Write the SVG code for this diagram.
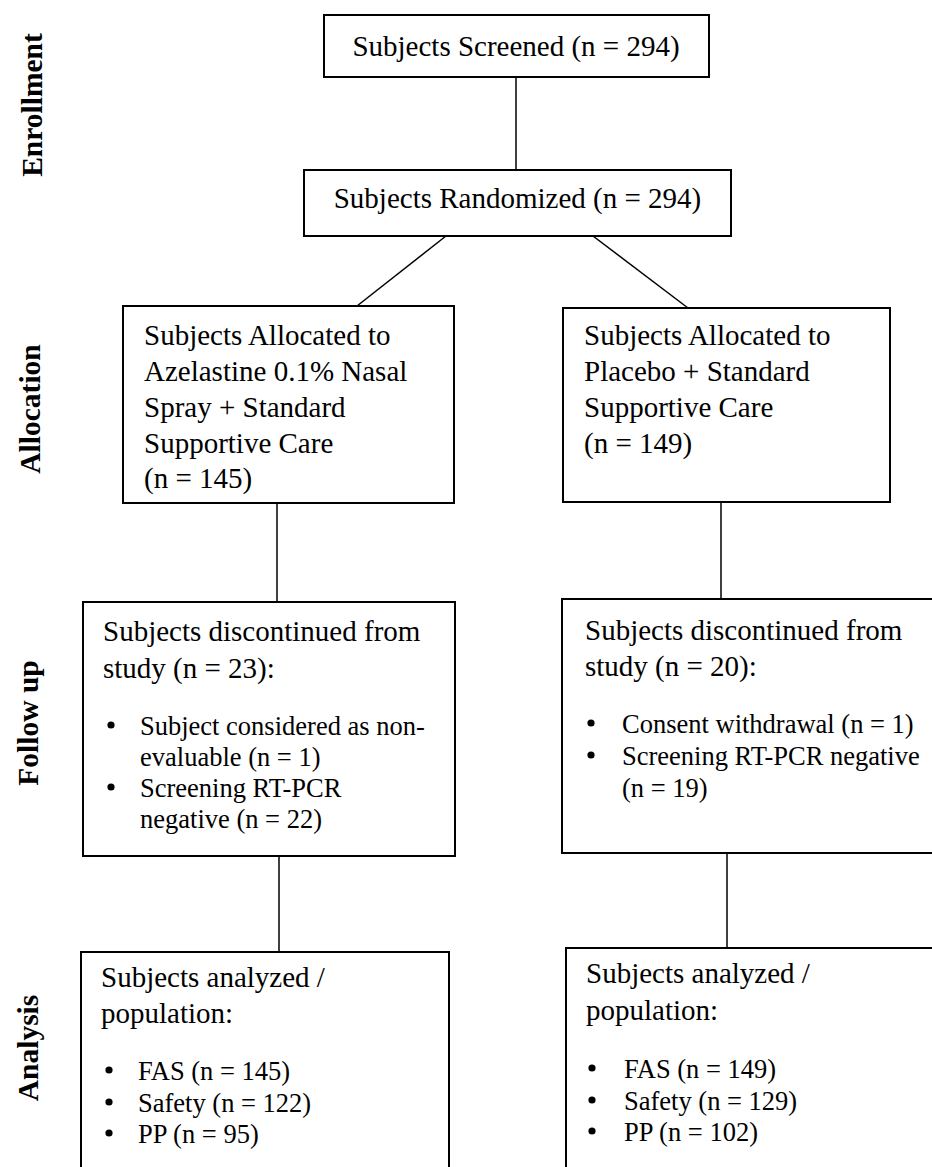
<svg xmlns="http://www.w3.org/2000/svg" width="932" height="1167" viewBox="0 0 932 1167">
  <style>
    .box { fill: #ffffff; stroke: #000000; stroke-width: 2; }
    .conn { stroke: #000000; stroke-width: 1.5; fill: none; }
    .t { font-family: "Liberation Serif", "Times New Roman", serif; font-size: 29px; fill: #000000; }
    .b { font-family: "Liberation Serif", "Times New Roman", serif; font-size: 26.5px; fill: #000000; }
    .lbl { font-family: "Liberation Serif", "Times New Roman", serif; font-size: 29.5px; font-weight: bold; fill: #000000; text-anchor: middle; }
    .c { text-anchor: middle; }
    .dot { fill: #000000; }
  </style>
  <rect x="0" y="0" width="932" height="1167" fill="#ffffff"/>

  <g id="stage-labels">
    <text class="lbl" transform="translate(42,105) rotate(-90)">Enrollment</text>
    <text class="lbl" transform="translate(40,409) rotate(-90)">Allocation</text>
    <text class="lbl" transform="translate(38,723) rotate(-90)">Follow up</text>
    <text class="lbl" transform="translate(38,1048) rotate(-90)">Analysis</text>
  </g>

  <g id="connectors">
    <line class="conn" x1="516" y1="77" x2="516" y2="170"/>
    <line class="conn" x1="446" y1="236" x2="357" y2="306"/>
    <line class="conn" x1="593" y1="236" x2="688" y2="308"/>
    <line class="conn" x1="277" y1="503" x2="277" y2="602"/>
    <line class="conn" x1="721" y1="502" x2="721" y2="599"/>
    <line class="conn" x1="279" y1="856" x2="279" y2="952"/>
    <line class="conn" x1="727" y1="853" x2="727" y2="948"/>
  </g>

  <g id="screened">
    <rect class="box" x="324" y="15" width="385" height="62"/>
    <text class="t c" x="516" y="56">Subjects Screened (n = 294)</text>
  </g>

  <g id="randomized">
    <rect class="box" x="304" y="170" width="427" height="66"/>
    <text class="t c" x="517.5" y="208">Subjects Randomized (n = 294)</text>
  </g>

  <g id="alloc-azelastine">
    <rect class="box" x="123" y="306" width="331" height="197"/>
    <text class="t" x="144" y="345">Subjects Allocated to</text>
    <text class="t" x="144" y="381">Azelastine 0.1% Nasal</text>
    <text class="t" x="144" y="417">Spray + Standard</text>
    <text class="t" x="144" y="453">Supportive Care</text>
    <text class="t" x="144" y="488">(n = 145)</text>
  </g>

  <g id="alloc-placebo">
    <rect class="box" x="563" y="308" width="327" height="194"/>
    <text class="t" x="584" y="345">Subjects Allocated to</text>
    <text class="t" x="584" y="381">Placebo + Standard</text>
    <text class="t" x="584" y="417">Supportive Care</text>
    <text class="t" x="584" y="453">(n = 149)</text>
  </g>

  <g id="followup-azelastine">
    <rect class="box" x="83" y="602" width="372" height="254"/>
    <text class="t" x="103" y="641">Subjects discontinued from</text>
    <text class="t" x="103" y="678">study (n = 23):</text>
    <circle class="dot" cx="111" cy="725" r="3.6"/>
    <text class="b" x="140" y="735">Subject considered as non-</text>
    <text class="b" x="140" y="766">evaluable (n = 1)</text>
    <circle class="dot" cx="111" cy="787" r="3.6"/>
    <text class="b" x="140" y="797">Screening RT-PCR</text>
    <text class="b" x="140" y="828">negative (n = 22)</text>
  </g>

  <g id="followup-placebo">
    <rect class="box" x="562" y="599" width="380" height="254"/>
    <text class="t" x="585" y="640">Subjects discontinued from</text>
    <text class="t" x="585" y="676">study (n = 20):</text>
    <circle class="dot" cx="591" cy="723" r="3.6"/>
    <text class="b" x="622" y="733">Consent withdrawal (n = 1)</text>
    <circle class="dot" cx="591" cy="755" r="3.6"/>
    <text class="b" x="622" y="765">Screening RT-PCR negative</text>
    <text class="b" x="622" y="797">(n = 19)</text>
  </g>

  <g id="analysis-azelastine">
    <rect class="box" x="81" y="952" width="368" height="230"/>
    <text class="t" x="101" y="987">Subjects analyzed /</text>
    <text class="t" x="101" y="1023">population:</text>
    <circle class="dot" cx="109" cy="1070" r="3.6"/>
    <text class="b" x="138" y="1080">FAS (n = 145)</text>
    <circle class="dot" cx="109" cy="1102" r="3.6"/>
    <text class="b" x="138" y="1112">Safety (n = 122)</text>
    <circle class="dot" cx="109" cy="1133" r="3.6"/>
    <text class="b" x="138" y="1143">PP (n = 95)</text>
  </g>

  <g id="analysis-placebo">
    <rect class="box" x="566" y="948" width="380" height="240"/>
    <text class="t" x="586" y="983">Subjects analyzed /</text>
    <text class="t" x="586" y="1020">population:</text>
    <circle class="dot" cx="592" cy="1068" r="3.6"/>
    <text class="b" x="624" y="1078">FAS (n = 149)</text>
    <circle class="dot" cx="592" cy="1100" r="3.6"/>
    <text class="b" x="624" y="1110">Safety (n = 129)</text>
    <circle class="dot" cx="592" cy="1131" r="3.6"/>
    <text class="b" x="624" y="1141">PP (n = 102)</text>
  </g>
</svg>
